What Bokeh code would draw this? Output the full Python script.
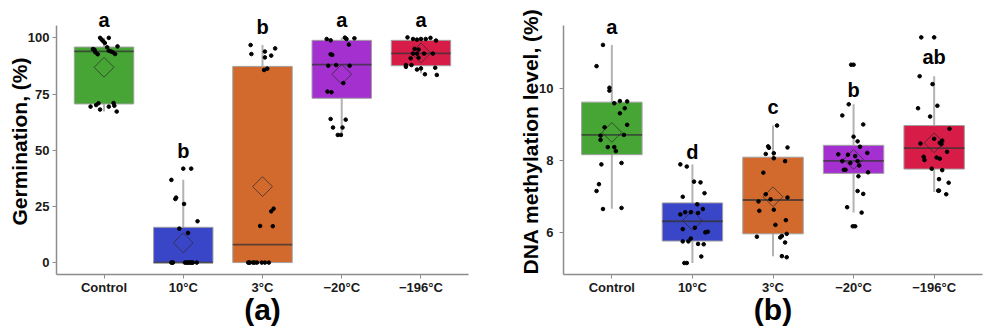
import numpy as np
from bokeh.plotting import figure
from bokeh.models import Range1d, FixedTicker, Label, Title
from bokeh.layouts import row
from bokeh.embed import file_html
from bokeh.resources import INLINE

categories = ["Control", "10°C", "3°C", "−20°C", "−196°C"]
box_colors = ["#46a535", "#3a46c8", "#d26a2e", "#a330cf", "#d81c48"]

# ---- panel (a): germination, %
germ_q1 = [70.6, 0.0, 0.0, 73.1, 87.6]
germ_median = [94.0, 0.0, 8.0, 88.1, 93.1]
germ_q3 = [95.9, 15.7, 87.3, 98.9, 98.9]
germ_lo = [67.2, 0.0, 0.0, 56.8, 84.2]
germ_hi = [100.0, 36.9, 96.8, 100.1, 100.2]
germ_mean = [86.9, 8.8, 33.8, 83.8, 93.3]
germ_letters = ["a", "b", "b", "a", "a"]
germ_letter_y = [104.7, 46.4, 101.7, 104.7, 104.7]
germ_values = [
    [100.0, 100.0, 99.2, 98.5, 97.7, 95.8, 96.2, 94.7, 93.6, 92.7, 94.3, 93.9, 93.6, 92.8, 95.0,
     69.4, 70.1, 70.9, 68.1, 69.4, 71.0, 69.8, 67.2],
    [41.8, 41.8, 36.8, 28.3, 28.9, 26.1, 18.4, 15.1, 13.2,
     0, 0, 0, 0, 0, 0, 0, 0, 0, 0, 0, 0],
    [96.8, 92.8, 93.9, 95.3, 91.3, 92.1, 85.7, 86.3, 24.0, 22.8, 16.3, 16.2,
     0, 0, 0, 0, 0, 0, 0, 0, 0],
    [99.5, 98.9, 100.1, 99.5, 99.8, 97.0, 92.7, 92.4, 87.6, 87.9, 87.6, 79.9, 76.1, 75.8,
     63.9, 63.6, 60.1, 60.1, 56.8, 56.8],
    [100.2, 99.5, 99.2, 99.5, 99.5, 100.0, 98.8, 95.1, 94.8, 93.0, 93.0, 93.0, 93.0, 90.9,
     91.2, 87.9, 87.1, 87.9, 85.9, 86.4, 83.8, 86.7, 83.5],
]
germ_jitter = [
    [-0.05, 0.06, -0.03, -0.01, 0.01, 0.04, 0.17, -0.12, -0.11, -0.08, 0.06, 0.09, 0.11, 0.14, -0.14,
     -0.17, -0.10, -0.07, -0.05, 0.06, 0.12, 0.13, 0.16],
    [0.0, 0.1, -0.15, -0.1, -0.09, 0.01, 0.18, -0.05, 0.06,
     -0.15, -0.13, 0.02, 0.05, 0.07, 0.1, 0.12, 0.17, -0.14, 0.08, 0.11, 0.04],
    [-0.15, -0.14, 0.03, 0.16, 0.03, 0.11, 0.02, 0.06, 0.14, 0.11, -0.03, 0.13,
     -0.18, -0.16, -0.12, -0.07, -0.01, 0.03, 0.08, -0.17, -0.1],
    [-0.19, -0.14, 0.04, 0.06, 0.16, 0.09, -0.14, -0.12, -0.17, -0.07, 0.1, 0.02, -0.18, -0.13,
     -0.14, 0.05, -0.11, 0.01, -0.05, -0.01],
    [-0.17, -0.10, -0.05, 0.0, 0.06, 0.12, 0.19, -0.08, -0.03, -0.10, -0.05, 0.04, 0.15, -0.13,
     -0.03, -0.19, -0.19, -0.12, -0.05, 0.0, 0.05, 0.18, 0.20],
]

# ---- panel (b): DNA methylation level, %
meth_q1 = [8.17, 5.77, 5.97, 7.65, 7.77]
meth_median = [8.72, 6.32, 6.91, 8.0, 8.35]
meth_q3 = [9.63, 6.83, 8.1, 8.43, 8.98]
meth_lo = [6.67, 5.16, 5.35, 6.56, 7.13]
meth_hi = [11.22, 7.9, 8.98, 9.57, 10.35]
meth_mean = [8.79, 6.34, 7.0, 8.04, 8.5]
meth_letters = ["a", "d", "c", "b", "ab"]
meth_letter_y = [11.53, 8.06, 9.31, 9.77, 10.69]
meth_values = [
    [11.22, 10.63, 10.03, 9.95, 9.6, 9.66, 9.65, 9.46, 9.32, 9.0, 8.93, 8.70, 8.72, 8.58, 8.38,
     8.38, 8.27, 7.9, 7.94, 7.35, 7.16, 6.66, 6.69],
    [7.9, 7.84, 7.42, 7.4, 7.0, 7.1, 6.79, 6.66, 6.51, 6.57, 6.57, 6.55, 6.1, 6.14, 6.01, 6.03,
     5.84, 5.76, 5.76, 5.69, 5.68, 5.34, 5.16, 5.16],
    [8.98, 8.40, 8.36, 8.37, 8.19, 8.21, 8.07, 7.99, 7.67, 7.07, 6.93, 6.98, 6.87, 6.61, 6.64,
     6.35, 6.22, 5.97, 5.89, 5.87, 5.91, 5.73, 5.35, 5.32],
    [10.67, 10.67, 9.57, 9.26, 9.01, 8.67, 8.54, 8.39, 8.18, 8.17, 8.13, 8.22, 7.99, 7.99, 7.94,
     7.87, 7.75, 7.75, 7.68, 7.57, 7.16, 7.08, 6.71, 6.56, 6.18, 6.18],
    [11.43, 11.43, 10.35, 10.13, 9.46, 9.53, 9.23, 8.89, 8.61, 8.48, 8.5, 8.56, 8.46, 8.25, 8.11,
     8.02, 8.09, 8.06, 7.78, 7.74, 7.49, 7.39, 7.17, 7.17, 7.07],
]
meth_jitter = [
    [-0.11, -0.19, -0.03, -0.03, 0.03, 0.10, 0.19, 0.16, 0.10, 0.19, -0.09, -0.14, 0.15, -0.14, -0.05,
     0.03, 0.05, -0.13, 0.12, -0.16, -0.19, -0.11, 0.12],
    [-0.15, -0.07, 0.02, 0.10, -0.12, 0.15, 0.06, 0.13, -0.15, -0.09, -0.02, 0.07, -0.12, 0.03, 0.16,
     0.19, -0.02, -0.12, -0.05, 0.07, 0.14, 0.11, -0.10, -0.07],
    [0.05, -0.06, -0.05, 0.18, -0.09, 0.01, 0.01, 0.15, -0.12, -0.09, -0.03, 0.18, -0.18, -0.17, 0.01,
     0.16, 0.03, 0.17, -0.20, 0.09, 0.11, 0.15, 0.11, 0.17],
    [-0.03, 0.0, -0.06, -0.14, 0.12, 0.0, 0.05, 0.08, -0.19, -0.07, 0.02, 0.17, -0.14, 0.05, -0.04,
     0.07, -0.12, -0.10, 0.18, 0.06, 0.05, 0.12, -0.08, 0.10, -0.01, 0.02],
    [-0.16, 0.0, -0.18, -0.02, -0.2, 0.04, -0.05, 0.19, 0.0, -0.17, 0.07, 0.10, 0.09, 0.16, -0.13,
     -0.12, 0.03, 0.07, -0.03, 0.10, 0.06, 0.18, 0.05, 0.06, 0.15],
]

FONT = "Liberation Sans"
BOX_W = 0.75
AXIS_PX = 249      # height of the drawn axis line, px
HEADROOM_PX = 17   # room above the axis line for the significance letters


def make_panel(values, jitter, q1, med, q3, lo, hi, mean, letters, letter_y,
               y_axis, y_ticks, y_title, x_title, width, left, right,
               tick_standoff, title_standoff):
    y0, y1 = y_axis
    y_top = y1 + (y1 - y0) * HEADROOM_PX / AXIS_PX
    p = figure(width=width, height=329, x_range=Range1d(0.4, 5.6), y_range=Range1d(y0, y_top),
               output_backend="svg", toolbar_location=None,
               min_border_left=left, min_border_right=right,
               min_border_top=25 - HEADROOM_PX, min_border_bottom=55)
    x = np.arange(1, len(categories) + 1)
    # whiskers
    p.segment(x0=x, y0=lo, x1=x, y1=hi, line_color="#b3b3b3", line_width=2)
    # boxes
    p.vbar(x=x, bottom=q1, top=q3, width=BOX_W, fill_color=box_colors,
           line_color="#a0a0a0", line_width=1)
    # medians
    p.segment(x0=x - BOX_W / 2, y0=med, x1=x + BOX_W / 2, y1=med,
              line_color="#333333", line_alpha=0.75, line_width=1.8)
    # means (open diamonds)
    p.scatter(x=x, y=mean, marker="square", angle=np.pi / 4, size=14,
              fill_alpha=0, line_color="#2a2a2a", line_alpha=0.7, line_width=1)
    # jittered observations
    px, py = [], []
    for i, (vals, jit) in enumerate(zip(values, jitter)):
        for v, j in zip(vals, jit):
            px.append(i + 1 + j)
            py.append(v)
    p.scatter(x=px, y=py, size=3.6, color="black")
    # significance letters
    for i, (t, ly) in enumerate(zip(letters, letter_y)):
        p.add_layout(Label(x=i + 1, y=ly, text=t, text_align="center", y_offset=7,
                           text_baseline="alphabetic", text_font=FONT,
                           text_font_style="bold", text_font_size="20px",
                           text_color="black"))
    p.xaxis.ticker = FixedTicker(ticks=list(x))
    p.xaxis.major_label_overrides = {int(i): c for i, c in zip(x, categories)}
    p.yaxis.ticker = FixedTicker(ticks=y_ticks)
    p.yaxis.bounds = (y0, y1)
    p.xgrid.visible = False
    p.ygrid.visible = False
    p.outline_line_color = None
    for ax in (p.xaxis[0], p.yaxis[0]):
        ax.axis_line_color = "#8c8c8c"
        ax.axis_line_width = 1.5
        ax.major_tick_line_color = "#8c8c8c"
        ax.major_tick_out = 4
        ax.major_tick_in = 0
        ax.minor_tick_line_color = None
        ax.major_label_text_font = FONT
        ax.major_label_text_font_style = "bold"
        ax.major_label_text_font_size = "13px"
        ax.major_label_text_color = "#1a1a1a"
        ax.axis_label_text_font = FONT
        ax.axis_label_text_color = "black"
    p.yaxis.major_label_standoff = tick_standoff
    # y title as a side-panel title, centred on the drawn axis line
    p.add_layout(Title(text=y_title, align="center", offset=-HEADROOM_PX / 2,
                       standoff=title_standoff, text_font=FONT, text_font_size="21px",
                       text_font_style="bold", text_color="black"), "left")
    p.xaxis.major_label_standoff = 1
    p.xaxis.axis_label = x_title
    p.xaxis.axis_label_text_font_size = "30px"
    p.xaxis.axis_label_text_font_style = "bold"
    p.xaxis.axis_label_standoff = -5
    return p


pa = make_panel(germ_values, germ_jitter, germ_q1, germ_median, germ_q3, germ_lo, germ_hi,
                germ_mean, germ_letters, germ_letter_y, (-5.3, 105.5), [0, 25, 50, 75, 100],
                "Germination, (%)", "(a)", 490, 56, 22, 3, -12)
pb = make_panel(meth_values, meth_jitter, meth_q1, meth_median, meth_q3, meth_lo, meth_hi,
                meth_mean, meth_letters, meth_letter_y, (4.84, 11.76), [6, 8, 10],
                "DNA methylation level, (%)", "(b)", 494, 73, 2, 6, -11)

layout = row(pa, pb)
open("out.html", "w").write(file_html(layout, INLINE))
